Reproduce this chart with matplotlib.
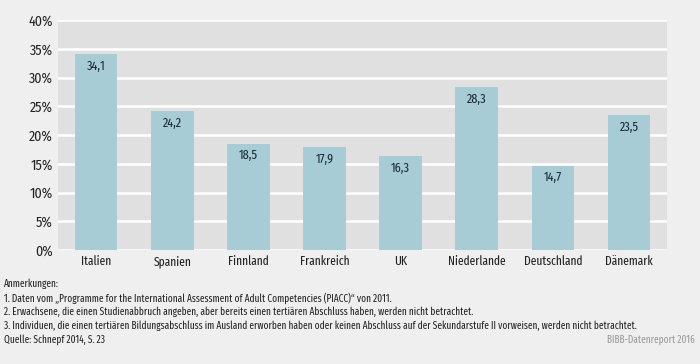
import matplotlib.pyplot as plt
import numpy as np

laender = ["Italien", "Spanien", "Finnland", "Frankreich", "UK", "Niederlande", "Deutschland", "Dänemark"]
werte = [34.1, 24.2, 18.5, 17.9, 16.3, 28.3, 14.7, 23.5]
y_ticks = [0, 5, 10, 15, 20, 25, 30, 35, 40]

anmerkungen = [
    "Anmerkungen:",
    "1. Daten vom \u201eProgramme for the International Assessment of Adult Competencies (PIACC)\u201c von 2011.",
    "2. Erwachsene, die einen Studienabbruch angeben, aber bereits einen tertiären Abschluss haben, werden nicht betrachtet.",
    "3. Individuen, die einen tertiären Bildungsabschluss im Ausland erworben haben oder keinen Abschluss auf der Sekundarstufe II vorweisen, werden nicht betrachtet.",
]
quelle = "Quelle: Schnepf 2014, S. 23"
report = "BIBB-Datenreport 2016"

plt.rcParams['font.family'] = ['Fira Sans Extra Condensed', 'Fira Sans Condensed', 'DejaVu Sans']

fig = plt.figure(figsize=(7, 3.64), dpi=100)
fig.patch.set_facecolor("#efefef")
# plot area: x 58..667 px, y 20..250 px
ax = fig.add_axes([0.083, 0.313, 0.87, 0.632])
ax.set_facecolor("#e0e0e0")

x = np.arange(len(laender))
ax.bar(x, werte, width=0.56, color="#a8ccd5", zorder=3)
for xi, v in zip(x, werte):
    ax.text(xi, v - 1.0, f"{v:.1f}".replace(".", ","), ha="center", va="top",
            fontsize=9.5, color="#1a2a33", zorder=4)

ax.set_ylim(0, 40)
ax.set_xlim(-0.5, len(laender) - 0.5)
ax.set_yticks(y_ticks)
ax.set_yticklabels([f"{t}%" for t in y_ticks], fontsize=10, color="#222222",
                   family=['Fira Sans Condensed', 'DejaVu Sans'])
ax.set_xticks(x)
ax.set_xticklabels(laender, fontsize=9, color="#222222")
for lab in ax.get_xticklabels():
    lab.set_va("baseline")
ax.yaxis.grid(True, color="white", linewidth=1.8, zorder=1)
ax.tick_params(axis="y", length=0, pad=4)
ax.tick_params(axis="x", length=0, pad=11)
for s in ax.spines.values():
    s.set_visible(False)

for i, line in enumerate(anmerkungen):
    fig.text(0.006, 1 - (284 + i * 13.8) / 364, line, fontsize=7.3, color="#222222", va="center")
fig.text(0.006, 1 - 340 / 364, quelle, fontsize=7.3, color="#222222", va="center")
fig.text(0.993, 1 - 340 / 364, report, fontsize=7.3, color="#999999", va="center", ha="right")

fig.savefig("out.png", dpi=100, facecolor=fig.get_facecolor())
